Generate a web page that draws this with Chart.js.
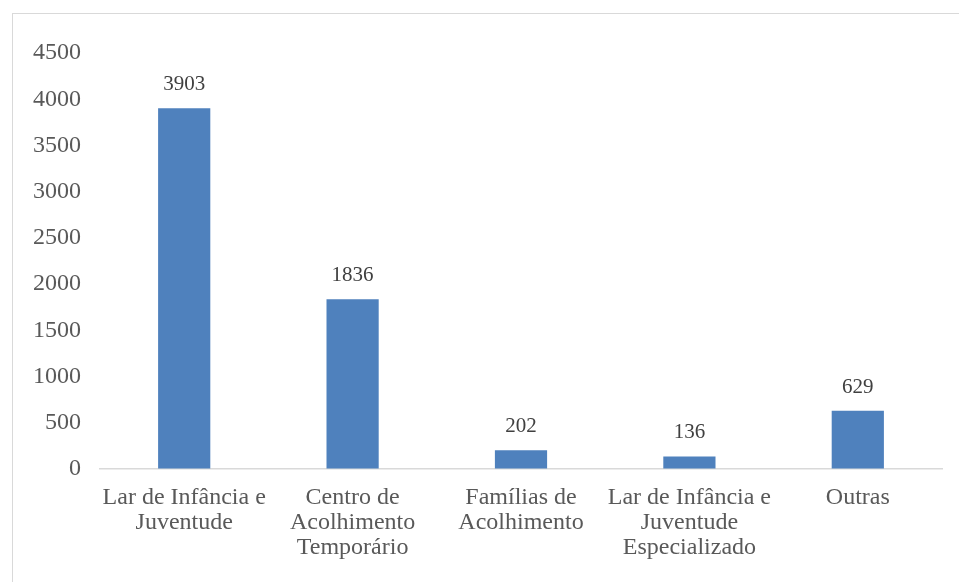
<!DOCTYPE html>
<html>
<head>
<meta charset="utf-8">
<script src="https://cdn.jsdelivr.net/npm/chart.js@4/dist/chart.umd.min.js"></script>
<style>
  html, body { margin:0; padding:0; background:#fff; }
  #wrap { position:relative; width:959px; height:582px; overflow:hidden; }
  #frame { position:absolute; left:12px; top:13px; width:960px; height:600px; border:1.5px solid #d9d9d9; box-sizing:border-box; }
  canvas { position:absolute; left:0; top:0; }
</style>
</head>
<body>
<div id="wrap">
  <div id="frame"></div>
  <canvas id="chartBars" width="959" height="582"></canvas>
</div>
<script>
// ── Data ──
const categories = [
  ['Lar de Infância e', 'Juventude'],
  ['Centro de', 'Acolhimento', 'Temporário'],
  ['Famílias de', 'Acolhimento'],
  ['Lar de Infância e', 'Juventude', 'Especializado'],
  ['Outras']
];
const values = [3903, 1836, 202, 136, 629];
const yTicks = { min: 0, max: 4500, step: 500 };

const serif = '"Liberation Serif", "Times New Roman", serif';

// ── Value labels above bars ──
const valueLabels = {
  id: 'valueLabels',
  afterDatasetsDraw(chart) {
    const { ctx } = chart;
    const meta = chart.getDatasetMeta(0);
    ctx.save();
    ctx.font = '21px ' + serif;
    ctx.fillStyle = '#404040';
    ctx.textAlign = 'center';
    ctx.textBaseline = 'bottom';
    meta.data.forEach((bar, i) => {
      ctx.fillText(String(values[i]), bar.x, bar.y - 13);
    });
    ctx.restore();
  }
};

const chartBars = new Chart(document.getElementById('chartBars').getContext('2d'), {
  type: 'bar',
  data: {
    labels: categories,
    datasets: [{
      data: values,
      backgroundColor: '#4f81bd',
      borderWidth: 0,
      barPercentage: 0.31,
      categoryPercentage: 1
    }]
  },
  options: {
    responsive: false,
    animation: false,
    layout: { padding: { left: 12, top: 53, right: 17, bottom: 0 } },
    plugins: { legend: { display: false }, tooltip: { enabled: false } },
    scales: {
      x: {
        afterFit: s => { s.height = 113; },
        grid: { display: true, color: 'transparent', drawTicks: false },
        border: { display: true, color: '#d9d9d9', width: 1.5 },
        ticks: { font: { family: serif, size: 24, lineHeight: 1.04 }, color: '#595959', padding: 16, maxRotation: 0, autoSkip: false }
      },
      y: {
        min: yTicks.min,
        max: yTicks.max,
        afterFit: s => { s.width = 88; },
        grid: { display: true, color: 'transparent', drawTicks: false },
        border: { display: false },
        ticks: {
          stepSize: yTicks.step,
          callback: v => String(v),
          font: { family: serif, size: 24 }, color: '#595959', padding: 19
        }
      }
    }
  },
  plugins: [valueLabels]
});
</script>
</body>
</html>
